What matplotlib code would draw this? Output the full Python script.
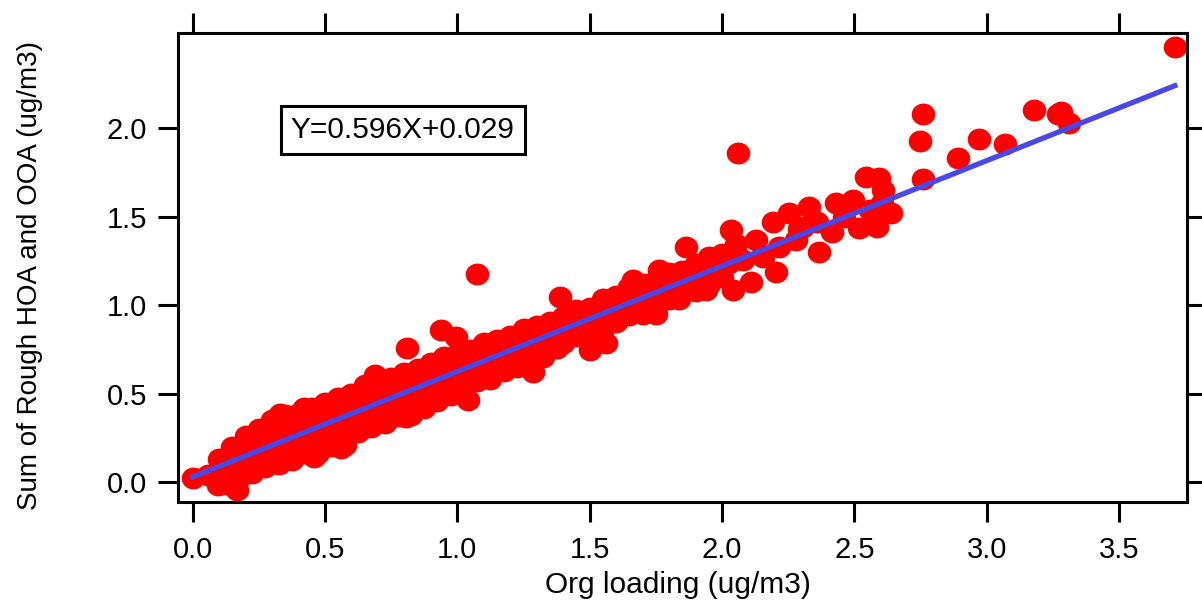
import matplotlib
matplotlib.use('Agg')
import matplotlib.pyplot as plt
import numpy as num
from matplotlib.path import Path

# Org loading (x) and Sum of Rough HOA and OOA (y)
org = [
    # tip near the origin
    0.000, 0.060, 0.097, 0.130, 0.166,
    # dense band, x 0.10 - 1.375
    0.100, 0.125, 0.100, 0.125,  0.150, 0.175, 0.150, 0.175,
    0.200, 0.225, 0.200, 0.225,  0.250, 0.275, 0.250, 0.275,
    0.300, 0.325, 0.300, 0.325,  0.350, 0.375, 0.350, 0.375,
    0.400, 0.425, 0.400, 0.425,  0.450, 0.475, 0.450, 0.475,
    0.500, 0.525, 0.500, 0.525,  0.550, 0.575, 0.550, 0.575,
    0.600, 0.625, 0.600, 0.625,  0.650, 0.675, 0.650, 0.675,
    0.700, 0.725, 0.700, 0.725,  0.750, 0.775, 0.750, 0.775,
    0.800, 0.825, 0.800, 0.825,  0.850, 0.875, 0.850, 0.875,
    0.900, 0.925, 0.900, 0.925,  0.950, 0.975, 0.950, 0.975,
    1.000, 1.025, 1.000, 1.025,  1.050, 1.075, 1.050, 1.075,
    1.100, 1.125, 1.100, 1.125,  1.150, 1.175, 1.150, 1.175,
    1.200, 1.225, 1.200, 1.225,  1.250, 1.275, 1.250, 1.275,
    1.300, 1.325, 1.300, 1.325,  1.350, 1.375, 1.350, 1.375,
    # bumps on the dense band
    0.460, 0.562, 0.807, 1.040, 1.285, 0.690, 0.810, 0.940, 0.996, 1.074,
    0.330, 0.420,
    # band x 1.40 - 2.025
    1.400, 1.425, 1.400,  1.450, 1.475, 1.450,  1.500, 1.525, 1.500,
    1.550, 1.575, 1.550,  1.600, 1.625, 1.600,  1.650, 1.675, 1.650,
    1.700, 1.725, 1.700,  1.750, 1.775, 1.750,  1.800, 1.825, 1.800,
    1.850, 1.875, 1.850,  1.900, 1.925, 1.900,  1.950, 1.975, 1.950,
    2.000, 2.025, 2.000,
    1.387, 1.500, 1.562, 1.663, 1.763, 1.864, 1.751, 1.839, 1.940, 2.040,
    2.034, 2.053, 2.078, 2.109,
    # sparse part
    2.128, 2.153, 2.191, 2.216, 2.204, 2.254, 2.279, 2.304, 2.329, 2.367,
    2.417, 2.430, 2.493, 2.518, 2.543, 2.557, 2.587, 2.594, 2.605, 2.606,
    2.638, 2.757, 2.290, 2.360, 2.460,
    2.060, 2.757, 2.746, 2.890, 2.970, 3.070, 3.180, 3.270, 3.280, 3.310,
    3.710,
]
hoa_ooa = [
    0.020, 0.040, -0.019, -0.010, -0.043,
    0.129, 0.107, 0.056, 0.034,  0.198, 0.150, 0.071, 0.023,
    0.258, 0.200, 0.111, 0.053,  0.298, 0.236, 0.145, 0.083,
    0.348, 0.276, 0.175, 0.103,  0.378, 0.303, 0.198, 0.123,
    0.387, 0.322, 0.227, 0.162,  0.417, 0.342, 0.237, 0.162,
    0.447, 0.375, 0.274, 0.202,  0.477, 0.399, 0.290, 0.212,
    0.497, 0.435, 0.344, 0.282,  0.546, 0.478, 0.379, 0.311,
    0.586, 0.511, 0.406, 0.331,  0.586, 0.524, 0.433, 0.371,
    0.616, 0.548, 0.449, 0.381,  0.636, 0.574, 0.483, 0.421,
    0.675, 0.613, 0.522, 0.460,  0.705, 0.643, 0.552, 0.490,
    0.725, 0.670, 0.585, 0.530,  0.745, 0.697, 0.618, 0.570,
    0.785, 0.726, 0.638, 0.580,  0.804, 0.756, 0.677, 0.629,
    0.824, 0.776, 0.697, 0.649,  0.864, 0.806, 0.717, 0.659,
    0.884, 0.836, 0.757, 0.709,  0.904, 0.866, 0.797, 0.759,
    0.141, 0.190, 0.368, 0.462, 0.622, 0.603, 0.755, 0.858, 0.820, 1.178,
    0.385, 0.420,
    0.933, 0.878, 0.783,  0.973, 0.908, 0.823,  0.983, 0.938, 0.823,
    1.033, 0.968, 0.863,  1.053, 0.998, 0.903,  1.102, 1.027, 0.942,
    1.122, 1.057, 0.952,  1.142, 1.087, 0.992,  1.182, 1.117, 1.032,
    1.192, 1.147, 1.072,  1.231, 1.176, 1.081,  1.271, 1.206, 1.121,
    1.291, 1.236, 1.161,
    1.046, 0.745, 0.783, 1.140, 1.197, 1.329, 0.952, 1.037, 1.084, 1.084,
    1.424, 1.348, 1.254, 1.131,
    1.367, 1.273, 1.471, 1.329, 1.188, 1.518, 1.367, 1.442, 1.555, 1.301,
    1.414, 1.575, 1.593, 1.433, 1.725, 1.537, 1.442, 1.716, 1.575, 1.650,
    1.518, 1.710, 1.430, 1.470, 1.500,
    1.860, 2.080, 1.930, 1.830, 1.940, 1.910, 2.100, 2.080, 2.090, 2.030,
    2.460,
]

slope = 0.596
intercept = 0.029
fit_text = 'Y=0.596X+0.029'

xticks = [0.0, 0.5, 1.0, 1.5, 2.0, 2.5, 3.0, 3.5]
yticks = [0.0, 0.5, 1.0, 1.5, 2.0]

plt.rcParams['font.family'] = ['Liberation Sans', 'DejaVu Sans']

fig = plt.figure(figsize=(12.02, 6.09), dpi=100)
ax = fig.add_axes([178 / 1202, 1 - 502 / 609, (1187 - 178) / 1202, (502 - 33) / 609])

# the picture is stretched sideways a bit, so the dots are slightly oval
circ = Path.unit_circle()
oval = Path(circ.vertices * num.array([1.08, 1.0]), circ.codes)

ax.plot(org, hoa_ooa, linestyle='none', marker=oval, markersize=17,
        color='#ff0000', markeredgewidth=0, zorder=2)

fit_x = num.array([min(org), max(org)])
ax.plot(fit_x, slope * fit_x + intercept, color='#4848e8', linewidth=3.8, zorder=3)

ax.text(0.2228, 0.793, fit_text, transform=ax.transAxes, ha='center', va='center',
        fontsize=21.5, bbox=dict(boxstyle='square,pad=0.34', fc='white', ec='black', lw=2.2))

ax.set_xlim(-0.055, 3.756)
ax.set_ylim(-0.113, 2.538)
ax.set_xticks(xticks)
ax.set_yticks(yticks)
ax.set_xticklabels(['%.1f' % t for t in xticks])
ax.set_yticklabels(['%.1f' % t for t in yticks])

for s in ax.spines.values():
    s.set_linewidth(2.2)
ax.tick_params(direction='out', length=14.5, width=2.2, labelsize=21,
               top=True, right=True, labeltop=False, labelright=False)
ax.tick_params(axis='x', pad=10)
ax.tick_params(axis='y', pad=8)

ax.set_xlabel('Org loading (ug/m3)', fontsize=21.5)
ax.set_ylabel('Sum of Rough HOA and OOA (ug/m3)', fontsize=20)
ax.xaxis.set_label_coords(0.4955, -0.147)
ax.yaxis.set_label_coords(-0.1337, 0.484)

fig.savefig('out.png', dpi=100)
